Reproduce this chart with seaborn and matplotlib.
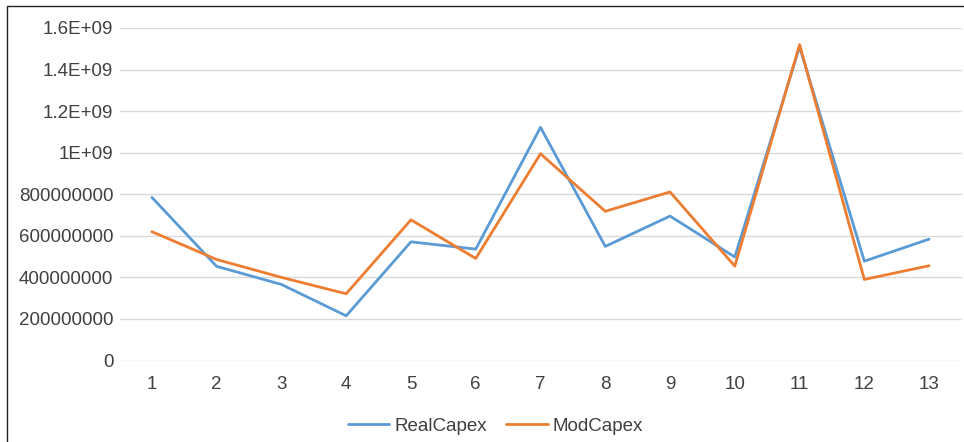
import seaborn as sns
import pandas as pd
import matplotlib.pyplot as plt
from matplotlib.patches import Rectangle
from matplotlib.ticker import FuncFormatter

periods = list(range(1, 14))
real_capex = [785e6, 453e6, 366e6, 215e6, 571e6, 536e6, 1122e6,
              549e6, 695e6, 498e6, 1510e6, 478e6, 584e6]
mod_capex = [620e6, 486e6, 400e6, 321e6, 677e6, 491e6, 995e6,
             718e6, 811e6, 454e6, 1520e6, 390e6, 456e6]
series_names = ['RealCapex', 'ModCapex']

df = pd.DataFrame({'period': periods * 2,
                   'value': real_capex + mod_capex,
                   'series': [series_names[0]] * 13 + [series_names[1]] * 13})

sns.set_style('white')
plt.rcParams['font.family'] = ['Liberation Sans', 'DejaVu Sans']

fig = plt.figure(figsize=(9.64, 4.42), dpi=100)
ax = fig.add_axes([119.5 / 964, 1 - 360.5 / 442, 842 / 964, 332.5 / 442])

sns.lineplot(data=df, x='period', y='value', hue='series',
             palette=['#5B9BD5', '#ED7D31'], linewidth=2.0, ax=ax)

ax.set_xlim(0.5, 13.5)
ax.set_ylim(0, 1.6e9)
ax.set_xticks(periods)
ax.set_yticks([i * 2e8 for i in range(9)])


def fmt(v, pos):
    if v >= 1e9:
        return f'{v:G}'
    return f'{int(round(v))}'


ax.yaxis.set_major_formatter(FuncFormatter(fmt))
ax.grid(axis='y', color='#D9D9D9', linewidth=1.0)
ax.set_axisbelow(True)
for s in ax.spines.values():
    s.set_visible(False)
ax.tick_params(axis='x', length=0, pad=11, labelsize=13.5, labelcolor='#404040')
ax.tick_params(axis='y', length=0, pad=4.5, labelsize=13.5, labelcolor='#404040')
ax.set_xlabel('')
ax.set_ylabel('')

ax.legend(loc='center', bbox_to_anchor=(495.5 / 964, 1 - 426 / 442),
          bbox_transform=fig.transFigure, ncol=2, frameon=False,
          fontsize=13.5, handlelength=2.2, handletextpad=0.27,
          columnspacing=1.05, labelcolor='#404040')

fig.add_artist(Rectangle((7 / 964, -0.1), 1.2, 1 - 6.5 / 442 + 0.1,
                         transform=fig.transFigure, fill=False,
                         edgecolor='#222222', linewidth=1.0, clip_on=False))

fig.savefig('out.png', dpi=100)
